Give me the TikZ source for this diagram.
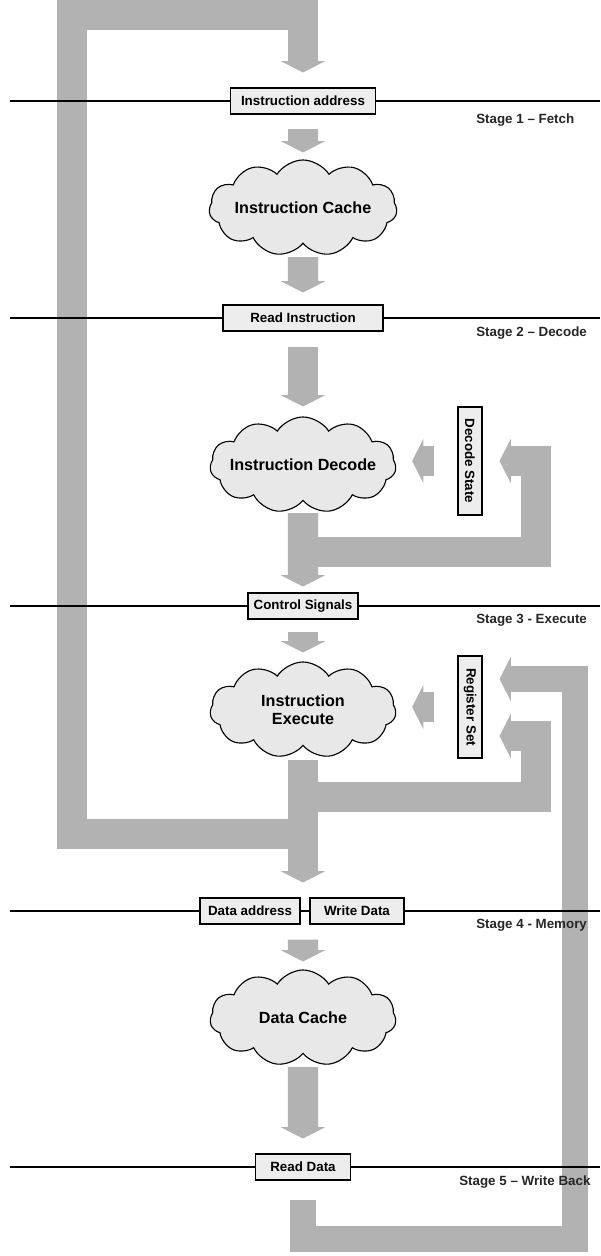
\documentclass[tikz,border=0pt]{standalone}
\usepackage{fontspec}
\setmainfont{Liberation Sans}
\usetikzlibrary{shapes.symbols,arrows.meta,backgrounds}

\begin{document}
\begin{tikzpicture}[
    % Масштаб: одна единица = один пиксель
    x=0.025cm, y=-0.025cm,
    % Облака стадий
    cloudbox/.style={cloud, cloud puffs=11, cloud puff arc=115, cloud ignores aspect,
        draw, line width=0.8pt, fill=black!9, minimum width=4.65cm, minimum height=2.4cm,
        inner sep=0pt, align=center, font=\fontsize{11.5}{13}\selectfont\bfseries},
    % Регистры на шинах
    regbox/.style={rectangle, draw, line width=0.8pt, fill=black!7, minimum height=0.65cm,
        inner sep=2pt, font=\fontsize{9.5}{10}\selectfont\bfseries},
    % Толстые серые стрелки
    band/.style={draw=black!30, line width=0.75cm, line join=miter},
    fat/.style={band, -{Triangle[width=1.1cm, length=0.28cm]}},
    % Шины и подписи стадий
    bus/.style={line width=1pt},
    stage/.style={anchor=west, inner sep=0pt, text=black!85, font=\fontsize{9.5}{10}\selectfont\bfseries}
]
    \useasboundingbox (0,0) rectangle (600,1256);

    % Облака
    \node[cloudbox] (icache) at (303,208) {Instruction Cache};
    \node[cloudbox] (idec) at (303,465) {\makebox[3cm]{Instruction Decode}};
    \node[cloudbox] (iexec) at (303,710) {Instruction\\Execute};
    \node[cloudbox] (dcache) at (303,1018) {Data Cache};

    % Регистры
    \node[regbox, minimum width=3.62cm] (addr) at (303,101) {Instruction address};
    \node[regbox, minimum width=4cm] (rdinst) at (303,318) {Read Instruction};
    \node[regbox, minimum width=2.75cm] (ctrl) at (303,606) {Control Signals};
    \node[regbox, minimum width=2.5cm] (daddr) at (250,911) {Data address};
    \node[regbox, minimum width=2.35cm] (wdata) at (357,911) {Write Data};
    \node[regbox, minimum width=2.38cm] (rdata) at (303,1167) {Read Data};
    \node[regbox, minimum width=0.6cm, minimum height=2.7cm] (decst) at (470,461) {\rotatebox{-90}{Decode State}};
    \node[regbox, minimum width=0.6cm, minimum height=2.55cm] (regset) at (470,707) {\rotatebox{-90}{Register Set}};

    % Подписи стадий
    \node[stage] (s1) at (476,120) {Stage 1 – Fetch};
    \node[stage] (s2) at (476,333) {Stage 2 – Decode};
    \node[stage] (s3) at (476,620) {Stage 3 - Execute};
    \node[stage] (s4) at (476,925) {Stage 4 - Memory};
    \node[stage] (s5) at (459,1182) {Stage 5 – Write Back};

    % Шины
    \foreach \n/\y in {1/101, 2/318, 3/606, 4/911, 5/1167} {
        \coordinate (w\n) at (10,\y);
        \coordinate (e\n) at (600,\y);
    }
    \draw[bus] (w1) -- (addr) -- (e1);
    \draw[bus] (w2) -- (rdinst) -- (e2);
    \draw[bus] (w3) -- (ctrl) -- (e3);
    \draw[bus] (w4) -- (daddr) -- (wdata) -- (e4);
    \draw[bus] (w5) -- (rdata) -- (e5);

    % Точки ветвления
    \coordinate (jdec) at (303,552);
    \coordinate (jexe) at (303,797);
    \coordinate (jtop) at (303,834);

    \begin{scope}[on background layer]
        % Поток вниз
        \draw[fat, shorten <=0.35cm, shorten >=0.175cm] (addr) -- (icache);
        \draw[fat, shorten <=0.325cm, shorten >=0.3cm] (icache) -- (rdinst);
        \draw[fat, shorten <=0.375cm, shorten >=0.25cm] (rdinst) -- (idec);
        \draw[fat, shorten <=0.3cm, shorten >=0.15cm] (idec) -- (ctrl);
        \draw[fat, shorten <=0.3cm, shorten >=0.225cm] (ctrl) -- (iexec);
        \draw[fat, shorten <=0.35cm, shorten >=0.375cm] (iexec.south) -- (iexec.south |- daddr.north);
        \draw[fat, shorten <=0.375cm, shorten >=0.2cm] (iexec.south |- daddr.south) -- (dcache.north);
        \draw[fat, shorten <=0.325cm, shorten >=0.375cm] (dcache) -- (rdata);

        % Состояние декодера
        \draw[fat, shorten >=0.425cm] (jdec) -- (536,552) -- (536,461) -- (decst.east);
        \draw[fat, shorten <=0.575cm, shorten >=0.4cm] (decst.west) -- (decst.west -| idec.east);

        % Набор регистров
        \draw[fat, shorten >=0.425cm] (jexe) -- (536,797) -- (536,736) -- (regset.east |- 0,736);
        \draw[fat, shorten <=0.575cm, shorten >=0.4cm] (regset.west) -- (regset.west -| iexec.east);

        % Обратная запись
        \draw[fat, line width=0.65cm, shorten <=0.475cm, shorten >=0.425cm] (rdata.south) -- (303,1239)
            -- (575,1239) -- (575,679) -- (regset.east |- 0,679);

        % Адрес следующей инструкции
        \draw[fat, shorten >=0.375cm] (jtop) -- (72,834) -- (72,15) -- (303,15) -- (addr.north);
    \end{scope}

\end{tikzpicture}
\end{document}
